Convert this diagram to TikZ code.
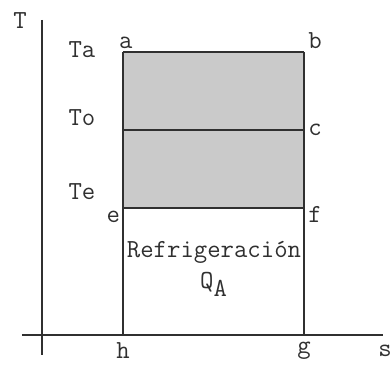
\documentclass[tikz,border=0pt]{standalone}
\usepackage{tikz}
\usetikzlibrary{positioning}
\definecolor{ink}{HTML}{303030}
\definecolor{shadeF}{HTML}{CACACA}
\tikzset{
  axis/.style={draw=ink, line width=0.8pt},
  edge/.style={draw=ink, line width=0.9pt},
  lbl/.style={font=\fontsize{18.5}{20}\selectfont\ttfamily, text=ink, inner sep=1pt},
}
\begin{document}
\begin{tikzpicture}[x=0.025cm, y=-0.025cm]
  \useasboundingbox (0,0) rectangle (391,368);
  % ---------------------------------------------------------- the axes
  \coordinate (ytop) at (42,20);
  \coordinate (ybot) at (42,355);
  \coordinate (xl) at (22,335);
  \coordinate (xr) at (383,335);
  \draw[axis] (ytop) -- (ybot);
  \draw[axis] (xl) -- (xr);
  \node[lbl] (T) at (20,21) {T};
  \node[lbl] (s) at (385,351) {s};

  % ---------------------------------------------------------- the cycle
  \coordinate (a) at (123,52);
  \coordinate (b) at (304,52);
  \coordinate (o) at (123,130);
  \coordinate (c) at (304,130);
  \coordinate (e) at (123,208);
  \coordinate (f) at (304,208);
  \coordinate (h) at (123,335);
  \coordinate (g) at (304,335);
  \fill[shadeF] (a) rectangle (f);
  \draw[edge] (a) -- (b);
  \draw[edge] (o) -- (c);
  \draw[edge] (e) -- (f);
  \draw[edge] (a) -- (h);
  \draw[edge] (b) -- (g);

  % temperatures on the left
  \node[lbl] (Ta) at (82,50) {Ta};
  \node[lbl] (To) at (82,118) {To};
  \node[lbl] (Te) at (82,192) {Te};

  % corner letters
  \node[lbl, above right=1pt and -4pt of a] (la) {a};
  \node[lbl, above right=1pt and 2pt of b] (lb) {b};
  \node[lbl, right=2pt of c] (lc) {c};
  \node[lbl, below left=1pt and 1pt of e] (le) {e};
  \node[lbl, below right=-2pt and 2pt of f] (lf) {f};
  \node[lbl, below=4pt of h] (lh) {h};
  \node[lbl, below=4pt of g] (lg) {g};

  % refrigeration area
  \node[lbl] (refr) at (214,252) {Refrigeración};
  \node[lbl] (QA) at (214,284) {Q$_{\texttt{A}}$};
\end{tikzpicture}
\end{document}
